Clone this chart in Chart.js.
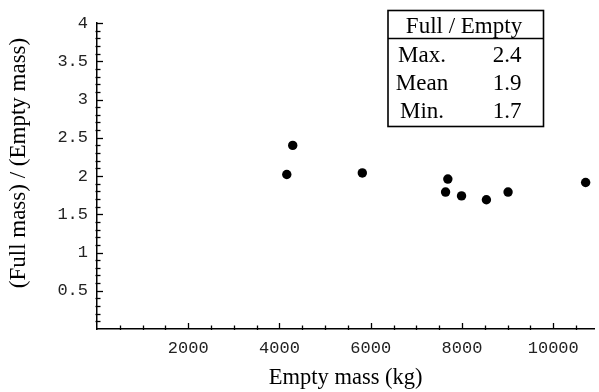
<!DOCTYPE html>
<html><head><meta charset="utf-8">
<script src="https://cdn.jsdelivr.net/npm/chart.js@4"></script>
<style>html,body{margin:0;padding:0;background:#fff}canvas{display:block}</style>
</head><body>
<canvas id="c" width="599" height="392"></canvas>
<script>
// Data
const emptyMass = [4160, 4290, 5815, 7690, 7640, 7990, 8535, 9010, 10710];
const massRatio = [2.02, 2.40, 2.04, 1.96, 1.79, 1.74, 1.69, 1.79, 1.915];
const xTickValues = [2000, 4000, 6000, 8000, 10000];
const yTickValues = [0.5, 1, 1.5, 2, 2.5, 3, 3.5, 4];
const tableHeader = 'Full / Empty';
const tableLabels = ['Max.', 'Mean', 'Min.'];
const tableValues = ['2.4', '1.9', '1.7'];
const yTitle = '(Full mass) / (Empty mass)';
const xTitle = 'Empty mass (kg)';

const serif = '"Liberation Serif", "Times New Roman", serif';
const mono = '"Liberation Mono", "Courier New", monospace';

const minorTicks = {
  id: 'minorTicks',
  afterDraw(chart) {
    const ctx = chart.ctx;
    const xs = chart.scales.x, ys = chart.scales.y;
    const ca = chart.chartArea;
    ctx.save();
    ctx.strokeStyle = '#000';
    ctx.lineWidth = 1.3;
    for (let v = 500; v <= xs.max; v += 500) {
      const px = Math.round(xs.getPixelForValue(v)) + 0.5;
      const major = v % 2000 === 0;
      ctx.beginPath();
      ctx.moveTo(px, ca.bottom + (major ? 0 : 1));
      ctx.lineTo(px, ca.bottom - (major ? 6 : 3.5));
      ctx.stroke();
    }
    for (let i = 1; i <= Math.round(ys.max * 10); i++) {
      const v = i / 10;
      const py = Math.round(ys.getPixelForValue(v)) + 0.5;
      const major = i % 5 === 0;
      ctx.beginPath();
      ctx.moveTo(ca.left - (major ? 0 : 1.5), py);
      ctx.lineTo(ca.left + (major ? 6 : 3.5), py);
      ctx.stroke();
    }
    // y axis title
    ctx.fillStyle = '#000';
    ctx.font = '23px ' + serif;
    ctx.textAlign = 'center';
    ctx.textBaseline = 'middle';
    ctx.translate(19, 163);
    ctx.rotate(-Math.PI / 2);
    ctx.fillText(yTitle, 0, 0);
    ctx.restore();
  }
};

const statsTable = {
  id: 'statsTable',
  afterDraw(chart) {
    const ctx = chart.ctx;
    const L = 388, R = 543.5, T = 10.5, B = 126.5, S = 38.5;
    ctx.save();
    ctx.fillStyle = '#fff';
    ctx.fillRect(L, T, R - L, B - T);
    ctx.strokeStyle = '#000';
    ctx.lineWidth = 1.6;
    ctx.strokeRect(L, T, R - L, B - T);
    ctx.beginPath(); ctx.moveTo(L, S); ctx.lineTo(R, S); ctx.stroke();
    ctx.fillStyle = '#000';
    ctx.font = '23px ' + serif;
    ctx.textAlign = 'center';
    ctx.textBaseline = 'alphabetic';
    ctx.fillText(tableHeader, 464, 33);
    const rowsY = [62, 90, 118];
    tableLabels.forEach((lab, i) => {
      ctx.fillText(lab, 422, rowsY[i]);
      ctx.fillText(tableValues[i], 507, rowsY[i]);
    });
    ctx.restore();
  }
};

new Chart(document.getElementById('c'), {
  type: 'scatter',
  data: {
    datasets: [{
      data: emptyMass.map((x, i) => ({x: x, y: massRatio[i]})),
      backgroundColor: '#000',
      borderColor: '#000',
      borderWidth: 0,
      pointRadius: 4.7,
      pointHoverRadius: 4.7
    }]
  },
  options: {
    responsive: false,
    animation: false,
    devicePixelRatio: 1,
    layout: {padding: {top: 23, right: 0, left: 0, bottom: 0}},
    plugins: {legend: {display: false}, tooltip: {enabled: false}},
    scales: {
      x: {
        type: 'linear', position: 'bottom', min: 0, max: 10900,
        grid: {display: false, drawTicks: false},
        border: {display: true, color: '#000', width: 1.5},
        afterBuildTicks: s => { s.ticks = xTickValues.map(v => ({value: v})); },
        afterFit: s => { s.height = 63; },
        ticks: {color: '#222', font: {family: mono, size: 17}, padding: 9, maxRotation: 0, autoSkip: false,
                callback: v => String(v)},
        title: {display: true, text: xTitle, color: '#000', font: {family: serif, size: 22.5}, padding: {top: 0, bottom: 0}}
      },
      y: {
        type: 'linear', position: 'left', min: 0, max: 4,
        grid: {display: false, drawTicks: false},
        border: {display: true, color: '#000', width: 1.5},
        afterBuildTicks: s => { s.ticks = yTickValues.map(v => ({value: v})); },
        afterFit: s => { s.width = 97; },
        ticks: {color: '#222', font: {family: mono, size: 17}, padding: 9, autoSkip: false,
                callback: v => String(v)},
        title: {display: false}
      }
    }
  },
  plugins: [minorTicks, statsTable]
});
</script>
</body></html>
